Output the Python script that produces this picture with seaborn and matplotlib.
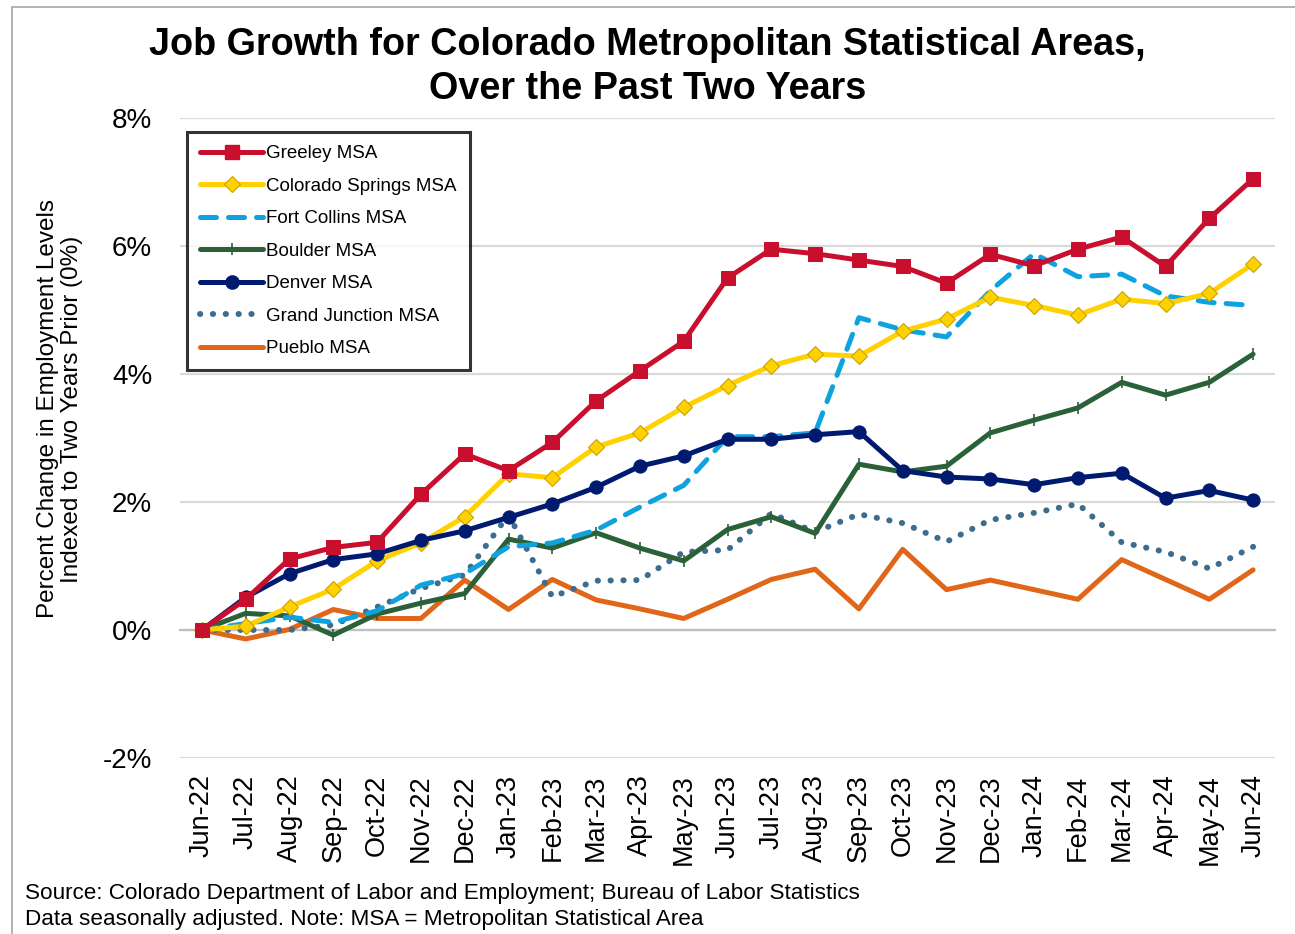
import numpy as np
import pandas as pd
import matplotlib.pyplot as plt
from matplotlib.lines import Line2D
from matplotlib.ticker import FuncFormatter, FixedLocator
import seaborn as sns

# months on the x axis
months = ['Jun-22', 'Jul-22', 'Aug-22', 'Sep-22', 'Oct-22', 'Nov-22', 'Dec-22',
          'Jan-23', 'Feb-23', 'Mar-23', 'Apr-23', 'May-23', 'Jun-23', 'Jul-23',
          'Aug-23', 'Sep-23', 'Oct-23', 'Nov-23', 'Dec-23', 'Jan-24', 'Feb-24',
          'Mar-24', 'Apr-24', 'May-24', 'Jun-24']

# percent change vs two years prior
greeley = [0.00, 0.48, 1.11, 1.29, 1.37, 2.12, 2.75, 2.49, 2.93, 3.58, 4.05, 4.51,
           5.50, 5.95, 5.88, 5.78, 5.68, 5.42, 5.87, 5.69, 5.95, 6.14, 5.68, 6.43, 7.05]
colorado_springs = [0.00, 0.06, 0.36, 0.64, 1.08, 1.36, 1.77, 2.44, 2.38, 2.86, 3.08,
                    3.48, 3.82, 4.13, 4.31, 4.28, 4.67, 4.86, 5.20, 5.07, 4.92, 5.17,
                    5.10, 5.26, 5.72]
fort_collins = [0.00, 0.10, 0.20, 0.12, 0.30, 0.70, 0.88, 1.30, 1.36, 1.56, 1.92, 2.26,
                3.02, 3.02, 3.08, 4.88, 4.69, 4.58, 5.30, 5.88, 5.52, 5.56, 5.22, 5.12, 5.07]
boulder = [0.00, 0.26, 0.22, -0.08, 0.25, 0.42, 0.57, 1.42, 1.28, 1.52, 1.28, 1.08,
           1.57, 1.77, 1.51, 2.59, 2.47, 2.56, 3.08, 3.28, 3.47, 3.87, 3.67, 3.87, 4.31]
denver = [0.00, 0.51, 0.88, 1.10, 1.19, 1.40, 1.55, 1.76, 1.97, 2.23, 2.56, 2.72, 2.98,
          2.98, 3.05, 3.10, 2.49, 2.39, 2.36, 2.27, 2.38, 2.45, 2.06, 2.18, 2.03]
grand_junction = [0.00, 0.00, 0.00, 0.08, 0.36, 0.65, 0.86, 1.80, 0.52, 0.77, 0.78,
                  1.22, 1.25, 1.82, 1.53, 1.81, 1.67, 1.38, 1.72, 1.83, 1.97, 1.37,
                  1.22, 0.96, 1.30]
pueblo = [0.00, -0.14, 0.01, 0.32, 0.18, 0.18, 0.78, 0.32, 0.79, 0.47, 0.33, 0.18,
          0.48, 0.79, 0.95, 0.33, 1.26, 0.63, 0.78, 0.63, 0.48, 1.10, 0.79, 0.48, 0.94]

series_names = ['Greeley MSA', 'Colorado Springs MSA', 'Fort Collins MSA', 'Boulder MSA',
                'Denver MSA', 'Grand Junction MSA', 'Pueblo MSA']
series_values = [greeley, colorado_springs, fort_collins, boulder, denver,
                 grand_junction, pueblo]

sns.set_style('white')
plt.rcParams['font.family'] = ['Liberation Sans', 'DejaVu Sans']
plt.rcParams['text.color'] = 'black'
plt.rcParams['xtick.color'] = 'black'
plt.rcParams['ytick.color'] = 'black'

fig = plt.figure(figsize=(12.95, 9.34), dpi=100)
ax = fig.add_axes([180 / 1295, 1 - 758 / 934, 1095 / 1295, 640 / 934])

# line styles per series
styles = {
    'Greeley MSA': dict(color='#C8102E', marker='s', markersize=9.5, mec='#C8102E',
                        linewidth=3.6, zorder=7),
    'Colorado Springs MSA': dict(color='#FFD100', marker='D', markersize=8.5,
                                 mec='#C9A200', mew=0.8, linewidth=3.6, zorder=6),
    'Fort Collins MSA': dict(color='#0EA2DE', linestyle=(0, (3.2, 2.4)),
                             dash_capstyle='round', linewidth=3.6, zorder=5),
    'Boulder MSA': dict(color='#2A6139', marker='|', markersize=9, mew=1.2,
                        mec='#2A6139', linewidth=3.6, zorder=4),
    'Denver MSA': dict(color='#001A70', marker='o', markersize=9.5, mec='#001A70',
                       linewidth=3.6, zorder=6),
    'Grand Junction MSA': dict(color='#3D6C8C', linestyle=(0, (0.05, 2.1)),
                               dash_capstyle='round', linewidth=4.3, zorder=3),
    'Pueblo MSA': dict(color='#E0661A', linewidth=3.6, zorder=2),
}

x = np.arange(len(months))
handles = []
for name, vals in zip(series_names, series_values):
    kw = styles[name]
    sns.lineplot(x=x, y=vals, ax=ax, **kw)
    handles.append(Line2D([], [], **{k: v for k, v in kw.items() if k != 'zorder'}))

# axes styling
ax.set_xlim(-0.5, len(months) - 0.5)
ax.set_ylim(-2, 8)
ax.yaxis.set_major_locator(FixedLocator([-2, 0, 2, 4, 6, 8]))
ax.yaxis.set_major_formatter(FuncFormatter(lambda v, p: f'{v:.0f}%'))
ax.grid(axis='y', color='#D9D9D9', linewidth=1.6)
ax.grid(axis='x', visible=False)
for s in ['left', 'right', 'top']:
    ax.spines[s].set_visible(False)
ax.spines['bottom'].set_position(('data', 0))
ax.spines['bottom'].set_color('#BFBFBF')
ax.spines['bottom'].set_linewidth(1.6)
ax.spines['bottom'].set_zorder(1)

ax.set_xticks(x)
ax.set_xticklabels(months, rotation=90, fontsize=19.5)
ax.set_xticks(np.arange(len(months) + 1) - 0.5, minor=True)
ax.tick_params(axis='x', which='major', length=0, pad=104)
ax.tick_params(axis='x', which='minor', length=7, width=1.6, color='#BFBFBF', direction='out')
ax.tick_params(axis='y', length=0, pad=20, labelsize=20)

ax.set_xlabel('')
ax.set_ylabel('')

fig.text(60 / 1295, 1 - 409 / 934,
         'Percent Change in Employment Levels\nIndexed to Two Years Prior (0%)',
         rotation=90, ha='center', va='center', fontsize=17.5, linespacing=1.1)

fig.text(0.5, 1 - 67 / 934,
         'Job Growth for Colorado Metropolitan Statistical Areas,\nOver the Past Two Years',
         ha='center', va='center', fontsize=27.2, fontweight='bold', linespacing=1.3)

fig.text(25 / 1295, 1 - 893 / 934,
         'Source: Colorado Department of Labor and Employment; Bureau of Labor Statistics',
         ha='left', va='center', fontsize=16.2)
fig.text(25 / 1295, 1 - 919 / 934,
         'Data seasonally adjusted. Note: MSA = Metropolitan Statistical Area',
         ha='left', va='center', fontsize=16.2)

leg = ax.legend(handles, series_names, loc='upper left', bbox_to_anchor=(0.006, 0.978),
                borderaxespad=0, fontsize=13.5, handlelength=3.4, handletextpad=0.15,
                labelspacing=0.82, frameon=True, fancybox=False, borderpad=0.7)
leg.get_frame().set_edgecolor('black')
leg.get_frame().set_linewidth(2.2)
leg.set_zorder(10)

# thin border of the original image
fig.add_artist(Line2D([12 / 1295, 1], [1 - 7 / 934, 1 - 7 / 934], color='#A6A6A6', lw=1.2))
fig.add_artist(Line2D([12 / 1295, 12 / 1295], [0, 1 - 7 / 934], color='#A6A6A6', lw=1.2))

fig.savefig('out.png', dpi=100)
